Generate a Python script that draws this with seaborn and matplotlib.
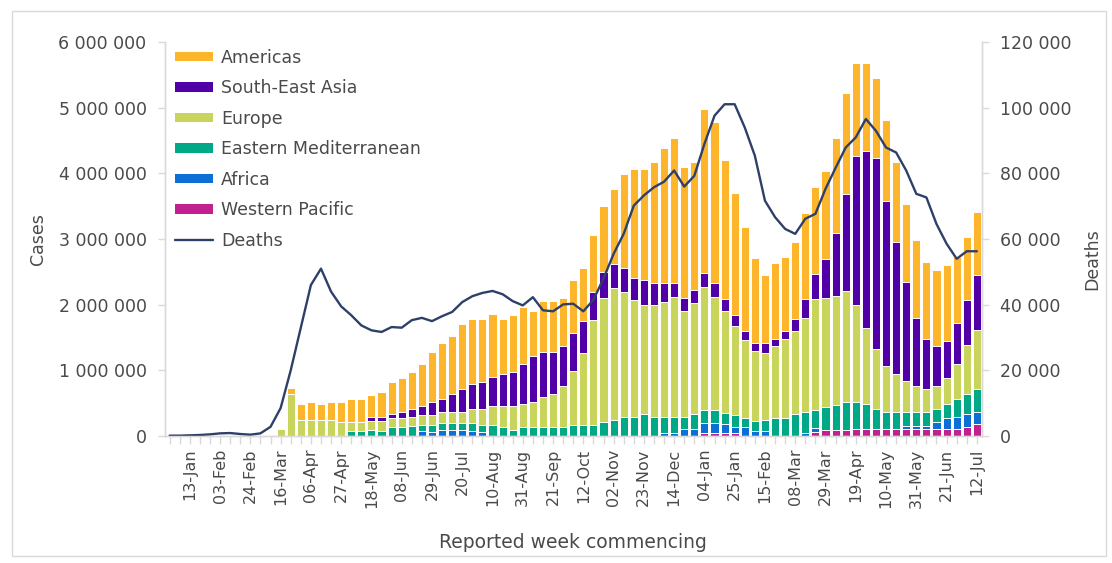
import numpy as np
import pandas as pd
import matplotlib
matplotlib.use("Agg")
import matplotlib.pyplot as plt
from matplotlib.patches import Patch, Rectangle
from matplotlib.lines import Line2D
from matplotlib.ticker import FuncFormatter, MultipleLocator
import seaborn as sns

# WEEKLY DATA (cases in millions, deaths in thousands), week starting 30-Dec-2019
weeks = pd.date_range("2019-12-30", periods=81, freq="7D")
week_labels = [d.strftime("%d-%b") for d in weeks]

western_pacific = [
    0, 0, 0, 0, 0, 0, 0, 0, 0, 0, 0, 0, 0, 0, 0, 0, 0, 0, 0, 0,
    0, 0, 0, 0, 0, 0, 0, 0, 0, 0, 0, 0, 0, 0, 0, 0, 0, 0, 0, 0,
    0, 0, 0, 0, 0, 0, 0, 0, 0, 0, 0, 0, 0, 0.05, 0.05, 0.05, 0.05, 0, 0, 0,
    0, 0, 0, 0, 0.06, 0.09, 0.09, 0.09, 0.10, 0.10, 0.10, 0.10, 0.10, 0.10, 0.10, 0.10,
    0.10, 0.10, 0.10, 0.14, 0.18]
africa = [
    0, 0, 0, 0, 0, 0, 0, 0, 0, 0, 0, 0, 0, 0, 0, 0, 0, 0, 0, 0,
    0, 0, 0, 0, 0, 0.07, 0.06, 0.09, 0.09, 0.09, 0.07, 0.06, 0, 0, 0, 0, 0, 0, 0, 0,
    0, 0, 0, 0, 0, 0, 0, 0, 0, 0.05, 0.05, 0.11, 0.11, 0.15, 0.15, 0.14, 0.08, 0.13, 0.07, 0.07,
    0, 0, 0, 0.05, 0.06, 0, 0, 0, 0, 0, 0, 0, 0, 0.05, 0.05, 0.05,
    0.12, 0.17, 0.19, 0.19, 0.19]
eastern_med = [
    0, 0, 0, 0, 0, 0, 0, 0, 0, 0, 0, 0, 0, 0, 0, 0, 0, 0, 0.07, 0.07,
    0.09, 0.07, 0.13, 0.14, 0.15, 0.10, 0.11, 0.11, 0.11, 0.11, 0.13, 0.11, 0.17, 0.13, 0.09, 0.13, 0.13, 0.13, 0.13, 0.13,
    0.17, 0.17, 0.17, 0.22, 0.25, 0.29, 0.29, 0.33, 0.29, 0.24, 0.24, 0.18, 0.22, 0.19, 0.19, 0.16, 0.19, 0.15, 0.16, 0.17,
    0.28, 0.28, 0.33, 0.32, 0.27, 0.35, 0.38, 0.43, 0.42, 0.38, 0.31, 0.27, 0.27, 0.21, 0.21, 0.21,
    0.19, 0.22, 0.27, 0.31, 0.34]
europe = [
    0, 0, 0, 0, 0, 0, 0, 0, 0, 0, 0, 0.11, 0.64, 0.25, 0.25, 0.25, 0.25, 0.22, 0.15, 0.15,
    0.14, 0.16, 0.14, 0.14, 0.14, 0.15, 0.15, 0.17, 0.17, 0.17, 0.21, 0.24, 0.28, 0.32, 0.36, 0.36, 0.39, 0.47, 0.51, 0.63,
    0.82, 1.09, 1.59, 1.89, 2.00, 1.90, 1.78, 1.66, 1.70, 1.75, 1.83, 1.62, 1.70, 1.88, 1.73, 1.56, 1.36, 1.19, 1.07, 1.02,
    1.09, 1.20, 1.27, 1.43, 1.69, 1.67, 1.67, 1.69, 1.47, 1.16, 0.92, 0.69, 0.58, 0.48, 0.40, 0.36,
    0.35, 0.39, 0.54, 0.74, 0.90]
south_east_asia = [
    0, 0, 0, 0, 0, 0, 0, 0, 0, 0, 0, 0, 0, 0, 0, 0, 0, 0, 0, 0,
    0.06, 0.06, 0.07, 0.09, 0.12, 0.13, 0.20, 0.19, 0.27, 0.34, 0.38, 0.42, 0.45, 0.49, 0.53, 0.61, 0.70, 0.68, 0.64, 0.61,
    0.58, 0.49, 0.43, 0.39, 0.37, 0.37, 0.34, 0.38, 0.34, 0.29, 0.21, 0.20, 0.19, 0.21, 0.21, 0.18, 0.17, 0.13, 0.11, 0.15,
    0.11, 0.12, 0.19, 0.29, 0.39, 0.58, 0.96, 1.48, 2.28, 2.70, 2.91, 2.52, 2.00, 1.50, 1.04, 0.76,
    0.61, 0.57, 0.62, 0.69, 0.85]
americas = [
    0, 0, 0, 0, 0, 0, 0, 0, 0, 0, 0, 0, 0.09, 0.24, 0.27, 0.24, 0.27, 0.30, 0.34, 0.34,
    0.34, 0.38, 0.49, 0.51, 0.57, 0.65, 0.76, 0.85, 0.88, 1.00, 1.00, 0.96, 0.96, 0.85, 0.86, 0.87, 0.69, 0.78, 0.78, 0.74,
    0.80, 0.81, 0.88, 1.00, 1.14, 1.43, 1.66, 1.70, 1.85, 2.06, 2.21, 1.99, 1.96, 2.50, 2.46, 2.11, 1.85, 1.58, 1.30, 1.04,
    1.15, 1.12, 1.16, 1.31, 1.32, 1.35, 1.44, 1.54, 1.42, 1.34, 1.22, 1.23, 1.23, 1.19, 1.19, 1.17,
    1.16, 1.15, 1.00, 0.96, 0.96]
deaths = [
    0.1, 0.1, 0.2, 0.3, 0.5, 0.8, 0.9, 0.6, 0.4, 0.8, 2.8, 8.5, 20.0, 33.0, 46.0, 51.0, 44.0, 39.5, 36.8, 33.7,
    32.2, 31.7, 33.2, 33.0, 35.3, 36.0, 35.0, 36.5, 37.8, 40.8, 42.6, 43.6, 44.2, 43.2, 41.1, 39.8, 42.3, 38.3, 38.0, 40.1,
    40.3, 38.0, 41.5, 48.0, 55.5, 61.6, 70.2, 73.3, 75.8, 77.5, 80.9, 76.0, 79.3, 89.0, 97.6, 101.1, 101.1, 94.0, 85.4, 71.7,
    66.7, 63.1, 61.6, 66.2, 67.7, 75.3, 81.7, 87.9, 91.0, 96.6, 93.0, 87.9, 86.4, 80.9, 73.8, 72.7,
    64.6, 58.6, 54.0, 56.3, 56.3]

regions = ["Americas", "South-East Asia", "Europe", "Eastern Mediterranean", "Africa", "Western Pacific"]
colors = {
    "Americas": "#FDB52C",
    "South-East Asia": "#5000A6",
    "Europe": "#C8D45B",
    "Eastern Mediterranean": "#00A886",
    "Africa": "#0C6FD6",
    "Western Pacific": "#C0218E",
}
line_color = "#2F4068"
text_color = "#4A4A4A"
spine_color = "#D9D9D9"

# stacked from the bottom: WP, Africa, EM, Europe, SEA, Americas
df = pd.DataFrame({
    "week": np.arange(len(weeks)),
    "Western Pacific": western_pacific,
    "Africa": africa,
    "Eastern Mediterranean": eastern_med,
    "Europe": europe,
    "South-East Asia": south_east_asia,
    "Americas": americas,
})
stack_order = ["Western Pacific", "Africa", "Eastern Mediterranean", "Europe", "South-East Asia", "Americas"]
cum = df[stack_order].cumsum(axis=1) * 1e6

sns.set_theme(style="white")
plt.rcParams["font.family"] = ["DejaVu Sans"]

fig = plt.figure(figsize=(11.12, 5.63), dpi=100)
ax = fig.add_axes([0.148, 0.2256, 0.735, 0.6994])

# draw the cumulative totals from the top layer down so each layer covers the one below
for name in reversed(stack_order):
    sns.barplot(x=df["week"], y=cum[name], color=colors[name], width=0.8,
                edgecolor="white", linewidth=0.7, saturation=1, errorbar=None, ax=ax)

ax.set_ylim(0, 6e6)
ax.set_xlim(-0.5, len(weeks) - 0.5)
ax.yaxis.set_major_locator(MultipleLocator(1e6))
ax.yaxis.set_major_formatter(FuncFormatter(lambda v, p: f"{int(v):,}".replace(",", " ")))

ax2 = ax.twinx()
sns.lineplot(x=np.arange(len(weeks)), y=np.array(deaths) * 1000, color=line_color,
             linewidth=1.7, ax=ax2)
ax2.set_ylim(0, 120000)
ax2.yaxis.set_major_locator(MultipleLocator(20000))
ax2.yaxis.set_major_formatter(FuncFormatter(lambda v, p: f"{int(v):,}".replace(",", " ")))
ax2.set_xlim(-0.5, len(weeks) - 0.5)

# x ticks: a mark for every week, a label every third week
labels = [lab if (i - 2) % 3 == 0 else "" for i, lab in enumerate(week_labels)]
ax.set_xticks(np.arange(len(weeks)))
ax.set_xticklabels(labels, rotation=90, fontsize=11.5, color=text_color)

for a in (ax, ax2):
    for s in a.spines.values():
        s.set_color(spine_color)
        s.set_linewidth(1)
    a.spines["top"].set_visible(False)
    a.grid(False)

ax.tick_params(axis="x", bottom=True, length=6, width=1, color=spine_color, pad=3)
ax.tick_params(axis="y", left=True, length=5, width=1, color=spine_color, pad=8,
               labelsize=12.5, labelcolor=text_color)
ax2.tick_params(axis="y", right=True, length=5, width=1, color=spine_color, pad=8,
                labelsize=12.5, labelcolor=text_color)

ax.set_xlabel("Reported week commencing", fontsize=13.5, color=text_color, labelpad=18)
ax.set_ylabel("Cases", fontsize=12.5, color=text_color)
ax2.set_ylabel("Deaths", fontsize=12.5, color=text_color)
ax.yaxis.set_label_coords(-0.144, 0.5)
ax2.yaxis.set_label_coords(1.124, 0.45)

handles = [Patch(facecolor=colors[r], edgecolor="none") for r in regions]
handles.append(Line2D([0], [0], color=line_color, lw=1.7))
ax2.legend(handles, regions + ["Deaths"], loc="upper left", bbox_to_anchor=(0.0, 1.01),
           frameon=False, fontsize=12.5, handlelength=2.2, handleheight=0.5,
           handletextpad=0.45, labelspacing=0.72, borderaxespad=0.2, labelcolor=text_color)

fig.patches.append(Rectangle((0.011, 0.012), 0.984, 0.968, transform=fig.transFigure,
                             fill=False, edgecolor=spine_color, linewidth=1))

plt.savefig("out.png", dpi=100)
